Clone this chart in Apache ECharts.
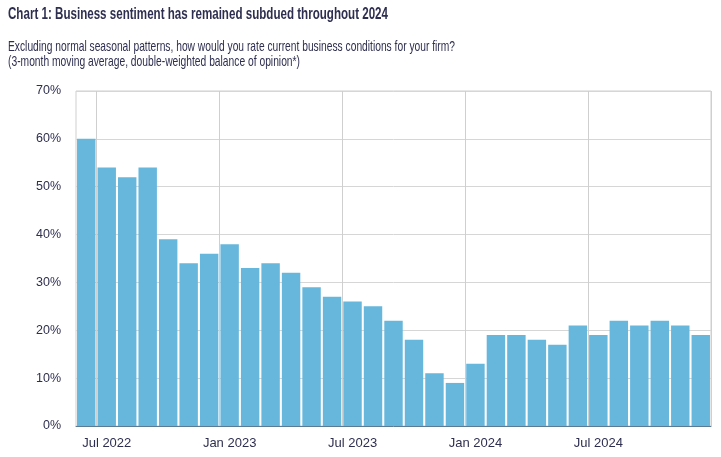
<!DOCTYPE html>
<html>
<head>
<meta charset="utf-8">
<script src="https://cdn.jsdelivr.net/npm/echarts@6/dist/echarts.min.js"></script>
<style>
  html, body { margin: 0; padding: 0; background: #fff; }
  #chart { width: 721px; height: 457px; }
</style>
</head>
<body>
<div id="chart"></div>
<script>
// months Jun 2022 .. Dec 2024
var months = ['Jun 2022', 'Jul 2022', 'Aug 2022', 'Sep 2022', 'Oct 2022', 'Nov 2022', 'Dec 2022',
  'Jan 2023', 'Feb 2023', 'Mar 2023', 'Apr 2023', 'May 2023', 'Jun 2023',
  'Jul 2023', 'Aug 2023', 'Sep 2023', 'Oct 2023', 'Nov 2023', 'Dec 2023',
  'Jan 2024', 'Feb 2024', 'Mar 2024', 'Apr 2024', 'May 2024', 'Jun 2024',
  'Jul 2024', 'Aug 2024', 'Sep 2024', 'Oct 2024', 'Nov 2024', 'Dec 2024'];
// balance of opinion, %
var sentiment = [60, 54, 52, 54, 39, 34, 36, 38, 33, 34, 32, 29, 27, 26, 25, 22, 18, 11, 9, 13,
  19, 19, 18, 17, 21, 19, 22, 21, 22, 21, 19];
var yTicks = [0, 10, 20, 30, 40, 50, 60, 70];

var titleText = 'Chart 1: Business sentiment has remained subdued throughout 2024';
var subLine1 = 'Excluding normal seasonal patterns, how would you rate current business conditions for your firm?';
var subLine2 = '(3-month moving average, double-weighted balance of opinion*)';

var ink = '#2e2f50';
var fam = 'Arial, "Liberation Sans", sans-serif';

// the heading text is narrow in the original, squeeze it to the same width
var ctx = document.createElement('canvas').getContext('2d');
function squeeze(txt, font, target) {
  ctx.font = font;
  return target / ctx.measureText(txt).width;
}

var showLabel = function (idx) { return idx % 6 === 1; };

var myChart = echarts.init(document.getElementById('chart'));
var option = {
  backgroundColor: '#fff',
  animation: false,
  graphic: [
    {
      type: 'text', left: 8, top: 6,
      scaleX: squeeze(titleText, 'bold 17px ' + fam, 380),
      style: { text: titleText, fill: ink, font: 'bold 17px ' + fam }
    },
    {
      type: 'text', left: 8, top: 39,
      scaleX: squeeze(subLine1, '15px ' + fam, 447),
      style: { text: subLine1, fill: ink, font: '15px ' + fam }
    },
    {
      type: 'text', left: 8, top: 54,
      scaleX: squeeze(subLine2, '15px ' + fam, 292),
      style: { text: subLine2, fill: ink, font: '15px ' + fam }
    }
  ],
  grid: {
    left: 76, right: 10, top: 91, bottom: 31,
    show: true, borderColor: '#cfcfcf', borderWidth: 1
  },
  xAxis: {
    type: 'category',
    data: months,
    axisLine: { lineStyle: { color: '#5a7a96', width: 1 } },
    axisTick: { show: false },
    axisLabel: {
      interval: showLabel, color: ink, fontSize: 13, fontFamily: fam, margin: 11,
      formatter: function (v) { return v; }
    },
    splitLine: { show: true, interval: showLabel, lineStyle: { color: '#cfcfcf', width: 1 } }
  },
  yAxis: {
    type: 'value',
    min: yTicks[0], max: yTicks[yTicks.length - 1], interval: 10,
    axisLine: { show: false },
    axisTick: { show: false },
    axisLabel: { color: ink, fontSize: 12.5, fontFamily: fam, margin: 15, formatter: '{value}%' },
    splitLine: { lineStyle: { color: '#d6d6d6', width: 1 } }
  },
  series: [{
    name: 'Business sentiment',
    type: 'bar',
    data: sentiment,
    barCategoryGap: '10%',
    itemStyle: { color: '#67b7dd' }
  }]
};
myChart.setOption(option);
</script>
</body>
</html>
